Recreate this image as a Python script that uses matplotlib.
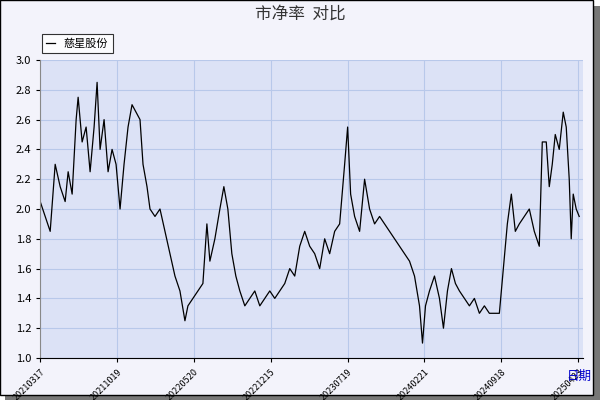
import matplotlib
matplotlib.use("Agg")
import matplotlib.pyplot as plt
from matplotlib.patches import Rectangle

plt.rcParams['font.family'] = ['Noto Sans CJK SC', 'DejaVu Sans']

obs = [40,45,50,55,60,65,68,72,76,78,82,86,90,94,97,100,104,108,112,116,120,124,128,132,136,140,143,147,150,155,160,165,170,175,180,185,188,193,198,203,207,210,215,220,224,228,232,236,240,245,250,255,260,265,270,275,280,285,290,295,300,305,310,315,320,325,330,335,340,345,348,351,355,360,365,370,375,380,385,390,395,400,405,410,415,420,423,426,430,435,440,444,448,452,456,460,465,470,475,480,485,490,495,500,504,508,512,516,520,525,530,535,540,543,547,550,553,556,560,564,567,570,572,574,577,580]
pb = [2.05,1.95,1.85,2.3,2.15,2.05,2.25,2.1,2.6,2.75,2.45,2.55,2.25,2.55,2.85,2.4,2.6,2.25,2.4,2.3,2.0,2.3,2.55,2.7,2.65,2.6,2.3,2.15,2.0,1.95,2.0,1.85,1.7,1.55,1.45,1.25,1.35,1.4,1.45,1.5,1.9,1.65,1.8,2.0,2.15,2.0,1.7,1.55,1.45,1.35,1.4,1.45,1.35,1.4,1.45,1.4,1.45,1.5,1.6,1.55,1.75,1.85,1.75,1.7,1.6,1.8,1.7,1.85,1.9,2.3,2.55,2.1,1.95,1.85,2.2,2.0,1.9,1.95,1.9,1.85,1.8,1.75,1.7,1.65,1.55,1.35,1.1,1.35,1.45,1.55,1.4,1.2,1.45,1.6,1.5,1.45,1.4,1.35,1.4,1.3,1.35,1.3,1.3,1.3,1.6,1.9,2.1,1.85,1.9,1.95,2.0,1.85,1.75,2.45,2.45,2.15,2.3,2.5,2.4,2.65,2.55,2.2,1.8,2.1,2.0,1.95]
tick_labels = ['20210317','20211019','20220520','20221215','20230719','20240221','20240918','20250423']
tick_pos = [40 + 77.0 * i for i in range(len(tick_labels))]

fig = plt.figure(figsize=(6, 4), dpi=100, facecolor='white')
fig.patches.append(Rectangle((0.008, 0.0), 0.992, 0.985, transform=fig.transFigure, facecolor='#777777', edgecolor='none', zorder=-2))
fig.patches.append(Rectangle((0.0, 0.012), 0.988, 0.988, transform=fig.transFigure, facecolor='#f3f3fb', edgecolor='black', lw=1, zorder=-1))

ax = fig.add_axes([0.067, 0.105, 0.905, 0.745])
ax.set_facecolor('#dce2f6')
ax.plot(obs, pb, color='black', lw=0.9, label='慈星股份')
ax.set_xlim(40, 584)
ax.set_ylim(1.0, 3.0)
ax.set_yticks([1.0 + 0.2 * i for i in range(11)])
ax.set_yticklabels([f'{1.0 + 0.2 * i:.1f}' for i in range(11)], fontsize=8)
ax.set_xticks(tick_pos)
ax.set_xticklabels(tick_labels, rotation=45, ha='right', va='top', rotation_mode='anchor', fontsize=6.5)
ax.grid(True, color='#b8c8ea', lw=0.8)
for s in ['top', 'right']:
    ax.spines[s].set_visible(False)
ax.spines['left'].set_color('#888888')
ax.tick_params(length=3)
fig.text(0.5, 0.965, '市净率  对比', ha='center', va='center', fontsize=12, color='#333333')
fig.text(0.965, 0.06, '日期', ha='center', va='center', fontsize=9, color='#0000cc')
leg = fig.legend(loc='upper left', bbox_to_anchor=(0.06, 0.93), fontsize=8, frameon=True,
                 fancybox=False, edgecolor='black', handlelength=0.8, borderpad=0.4)
leg.get_frame().set_linewidth(0.8)
fig.savefig('out.png', dpi=100, facecolor=fig.get_facecolor())
